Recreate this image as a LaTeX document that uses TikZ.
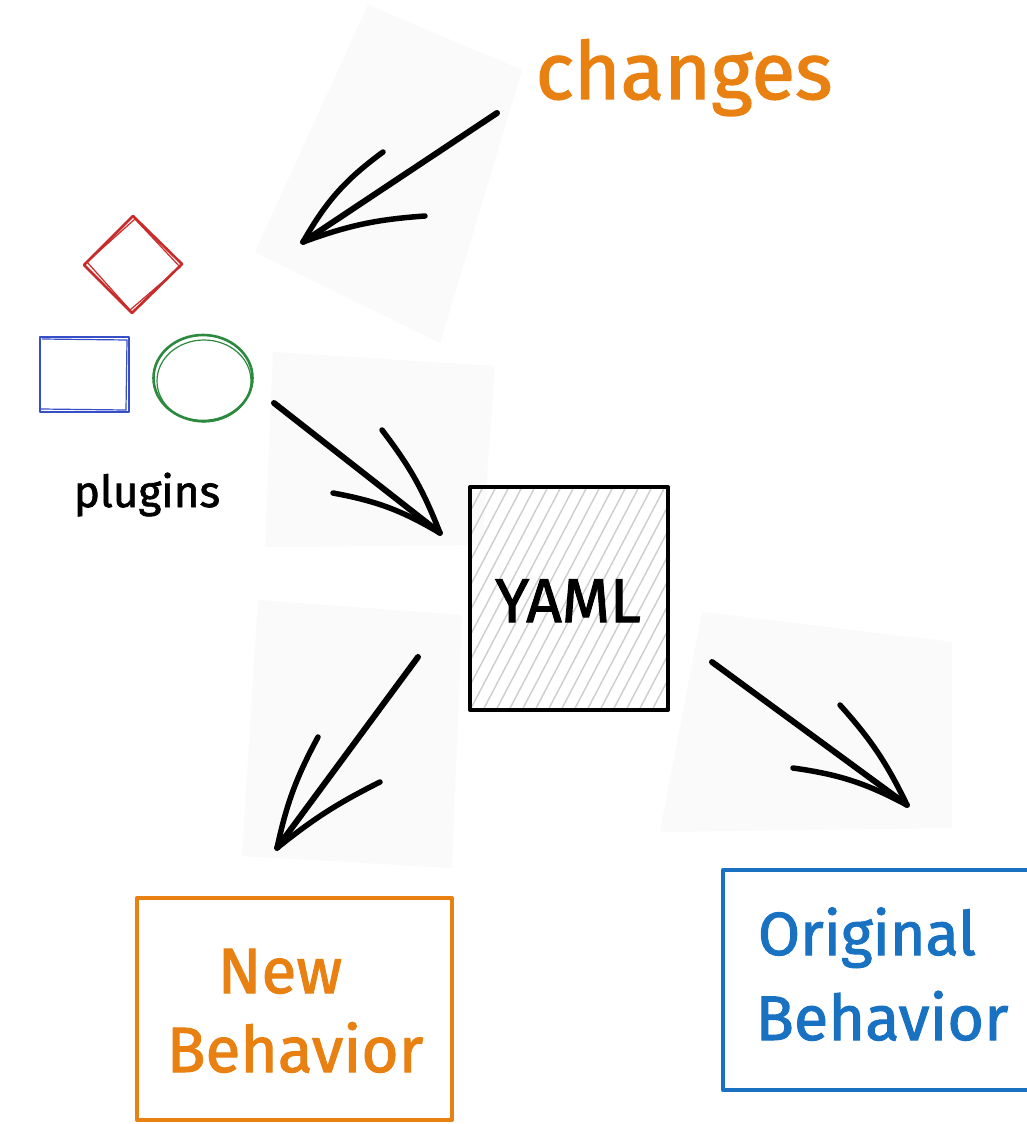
\documentclass[tikz,border=0pt]{standalone}
\usepackage{fontspec}
\setmainfont{Fira Sans}
\newfontfamily\hand{Fira Sans}[FakeBold=1.6]
\usetikzlibrary{shapes.geometric}
\definecolor{exorange}{RGB}{232,128,18}
\definecolor{exred}{RGB}{201,42,42}
\definecolor{exblue}{RGB}{54,79,199}
\definecolor{exgreen}{RGB}{43,138,62}
\definecolor{exbox}{RGB}{25,113,194}
\definecolor{patchgray}{RGB}{250,250,250}
\definecolor{hatchgray}{RGB}{205,205,205}
\begin{document}
\begin{tikzpicture}[x=1pt,y=-1pt,
  patch/.style={fill=patchgray,draw=none},
  arr/.style={draw=black,line width=6pt,line cap=round,line join=round},
  barb/.style={draw=black,line width=5.5pt,line cap=round,line join=round},
  sketchline/.style={line width=2.6pt,line cap=round,line join=round},
  boxline/.style={line width=4pt,line cap=round,line join=round},
  lbl/.style={anchor=base,inner sep=0pt}]
\useasboundingbox (0,0) rectangle (1027,1124);
\fill[white] (0,0) rectangle (1027,1124);

% faint background patches
\path[patch] (368,5) -- (522,70) -- (440,343) -- (255,252) -- cycle;
\path[patch] (273,352) -- (495,366) -- (482,545) -- (265,547) -- cycle;
\path[patch] (258,600) -- (462,615) -- (452,868) -- (242,856) -- cycle;
\path[patch] (702,612) -- (952,642) -- (952,828) -- (660,832) -- cycle;

% changes label
\node[lbl,text=exorange,font=\hand\fontsize{80}{80}\selectfont] (changes) at (684,99) {changes};

% plugins group
\coordinate (dT) at (133,216);
\coordinate (dR) at (182,264);
\coordinate (dB) at (132,313);
\coordinate (dL) at (84,265);
\draw[sketchline,exred] (dT) -- (dR) -- (dB) -- (dL) -- cycle;
\draw[exred,line width=1.2pt] (135,219) -- (180,267) -- (130,310) -- (87,262) -- cycle;
\draw[sketchline,exblue] (40,337) rectangle (129,412);
\draw[exblue,line width=1.2pt] (42,339) -- (127,340) -- (126,410) -- (41,409);
\node[draw=exgreen,line width=2.6pt,ellipse,minimum width=99pt,minimum height=86pt,inner sep=0pt] (circ) at (203,378) {};
\draw[exgreen,line width=1.2pt] (204,381) ellipse [x radius=47, y radius=41];
\node[lbl,font=\hand\fontsize{44}{44}\selectfont] (plugins) at (147,507) {plugins};

% YAML box with hatching
\begin{scope}
\clip (470,487) rectangle (668,710);
\foreach \i in {-130,-117,...,220} {
  \draw[hatchgray,line width=1.4pt] (468+\i,714) -- (588+\i,485);
}
\end{scope}
\node[draw=black,boxline,minimum width=198pt,minimum height=223pt,inner sep=0pt] (yaml) at (569,598.5) {};
\node[lbl,font=\hand\fontsize{62}{62}\selectfont] (yamltext) at (568,622) {YAML};

% behaviour boxes
\node[draw=exorange,boxline,minimum width=315pt,minimum height=222pt,inner sep=0pt] (newbox) at (294.5,1009) {};
\node[lbl,text=exorange,font=\hand\fontsize{64}{64}\selectfont] (new) at (280,993) {New};
\node[lbl,text=exorange,font=\hand\fontsize{64}{64}\selectfont] (newbeh) at (295,1072) {Behavior};

\coordinate (obTR) at (1035,870);
\coordinate (obTL) at (723,870);
\coordinate (obBL) at (723,1090);
\coordinate (obBR) at (1035,1090);
\draw[boxline,exbox] (obTR) -- (obTL) -- (obBL) -- (obBR);
\node[lbl,text=exbox,font=\hand\fontsize{61}{61}\selectfont] (orig) at (867,955) {Original};
\node[lbl,text=exbox,font=\hand\fontsize{63}{63}\selectfont] (origbeh) at (882,1040) {Behavior};

% arrows
\coordinate (a1s) at (497,113); \coordinate (a1t) at (303,242);
\coordinate (a1b) at (383,152); \coordinate (a1c) at (425,216);
\draw[arr] (a1s) -- (a1t);
\draw[barb] (a1b) to[bend right=12] (a1t) to[bend left=8] (a1c);

\coordinate (a2s) at (274,403); \coordinate (a2t) at (440,533);
\coordinate (a2b) at (382,430); \coordinate (a2c) at (333,493);
\draw[arr] (a2s) -- (a2t);
\draw[barb] (a2b) to[bend left=8] (a2t) to[bend right=10] (a2c);

\coordinate (a3s) at (418,657); \coordinate (a3t) at (277,848);
\coordinate (a3b) at (318,737); \coordinate (a3c) at (380,782);
\draw[arr] (a3s) -- (a3t);
\draw[barb] (a3b) to[bend right=8] (a3t) to[bend left=6] (a3c);

\coordinate (a4s) at (712,662); \coordinate (a4t) at (907,805);
\coordinate (a4b) at (840,705); \coordinate (a4c) at (793,768);
\draw[arr] (a4s) -- (a4t);
\draw[barb] (a4b) to[bend left=8] (a4t) to[bend right=10] (a4c);
\end{tikzpicture}
\end{document}
